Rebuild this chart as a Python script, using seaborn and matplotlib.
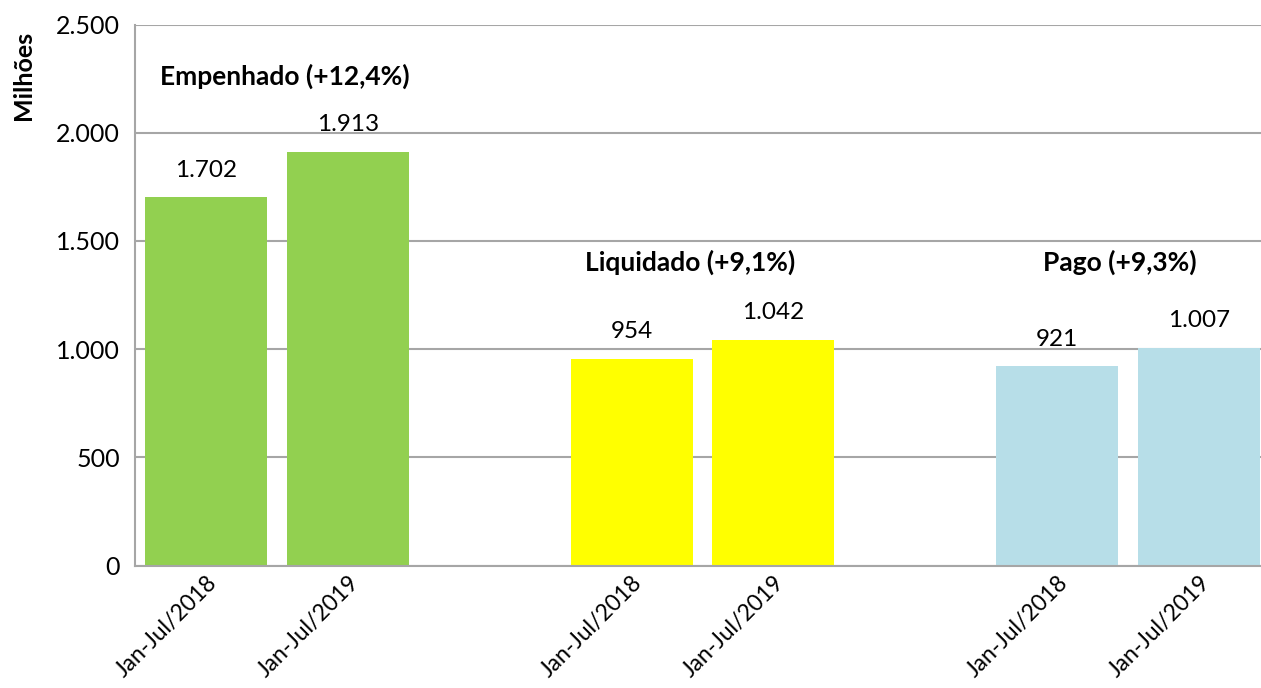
import numpy as np
import pandas as pd
import matplotlib.pyplot as plt
import seaborn as sns

# data (values in millions)
slots = ['E18', 'E19', 'gap1', 'L18', 'L19', 'gap2', 'P18', 'P19']
bar_slots = ['E18', 'E19', 'L18', 'L19', 'P18', 'P19']
values = [1702, 1913, 954, 1042, 921, 1007]
value_labels = ['1.702', '1.913', '954', '1.042', '921', '1.007']
tick_labels = ['Jan-Jul/2018', 'Jan-Jul/2019'] * 3
groups = ['Empenhado', 'Empenhado', 'Liquidado', 'Liquidado', 'Pago', 'Pago']
group_titles = ['Empenhado (+12,4%)', 'Liquidado (+9,1%)', 'Pago (+9,3%)']
colors = {'Empenhado': '#92D050', 'Liquidado': '#FFFF00', 'Pago': '#B7DEE8'}

df = pd.DataFrame({'slot': bar_slots, 'valor': values, 'grupo': groups})

sns.set_style('white')
plt.rcParams['font.family'] = ['Lato', 'DejaVu Sans']
plt.rcParams['text.color'] = 'black'
plt.rcParams['xtick.color'] = 'black'
plt.rcParams['ytick.color'] = 'black'
plt.rcParams['axes.labelcolor'] = 'black'

fig = plt.figure(figsize=(12.61, 6.88), dpi=100)
ax = fig.add_axes([135 / 1261, (688 - 565.5) / 688, 1135 / 1261, 541 / 688])

sns.barplot(data=df, x='slot', y='valor', hue='grupo', order=slots,
            palette=colors, dodge=False, width=0.86, saturation=1,
            linewidth=0, legend=False, ax=ax)

ax.set_xlim(-0.5, 7.5)
ax.set_ylim(0, 2500)
ax.set_yticks(np.arange(0, 2501, 500))
ax.set_yticklabels([f'{v:,}'.replace(',', '.') for v in range(0, 2501, 500)], fontsize=18)
ax.yaxis.grid(True, color='#A6A6A6', linewidth=1.5)
ax.set_axisbelow(True)

# bar positions and labels
pos = [slots.index(s) for s in bar_slots]
ax.set_xticks(pos)
ax.set_xticklabels(tick_labels, rotation=45, ha='right', va='top',
                   rotation_mode='anchor', fontsize=16.5)
ax.tick_params(axis='x', which='major', length=0, pad=5)
ax.set_xticks(np.arange(-0.5, 7.5, 1), minor=True)
ax.tick_params(axis='x', which='minor', length=7, width=1.5, color='#A6A6A6', direction='out')
ax.tick_params(axis='y', length=7, width=1.5, color='#A6A6A6', labelcolor='black',
               direction='out', pad=4)
ax.set_xlabel('')

for s in ['top', 'right']:
    ax.spines[s].set_visible(False)
for s in ['left', 'bottom']:
    ax.spines[s].set_color('#A6A6A6')
    ax.spines[s].set_linewidth(1.5)

for p, v, lab in zip(pos, values, value_labels):
    ax.annotate(lab, (p, v), xytext=(0, 12), textcoords='offset points',
                ha='center', va='bottom', fontsize=17.5)

ax.text(0.556, 2262, group_titles[0], ha='center', va='center', fontsize=19, fontweight='bold')
ax.text(3.41, 1402, group_titles[1], ha='center', va='center', fontsize=19, fontweight='bold')
ax.text(6.44, 1402, group_titles[2], ha='center', va='center', fontsize=19, fontweight='bold')

ax.set_ylabel('Milhões', fontsize=18, fontweight='bold')
ax.yaxis.set_label_coords(-0.088, 0.905)

fig.savefig('out.png', dpi=100)
